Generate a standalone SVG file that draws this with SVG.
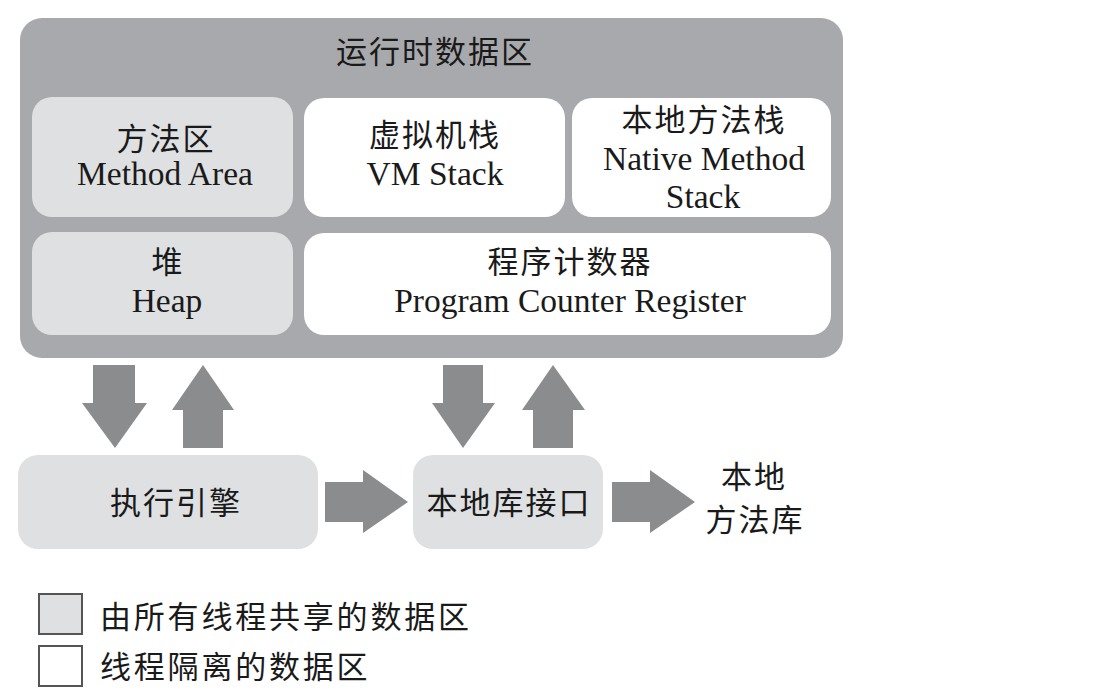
<svg xmlns="http://www.w3.org/2000/svg" width="1106" height="696" viewBox="0 0 1106 696">
<style>
.outer{fill:#a8a9ac}
.shared{fill:#dfe0e2}
.priv{fill:#ffffff}
.arrow{fill:#8b8c8e}
.t{font-family:"Liberation Serif","Noto Sans CJK SC",serif;font-size:33.5px;fill:#1a1a1a;text-anchor:middle}
.c{font-family:"Noto Sans CJK SC","Noto Sans CJK TC",sans-serif;font-size:31px;fill:#1a1a1a;text-anchor:middle}
.lg{font-family:"Noto Sans CJK SC","Noto Sans CJK TC",sans-serif;font-size:31px;fill:#1a1a1a;letter-spacing:2.8px}
.lbox{stroke:#555;stroke-width:2}
</style>
<rect width="1106" height="696" fill="#ffffff"/>
<g id="runtime-data-area">
<rect class="outer" x="20" y="18" width="823" height="340" rx="22"/>
<text class="c" x="435" y="63" letter-spacing="2">运行时数据区</text>
</g>
<g id="method-area">
<rect class="shared" x="32" y="97" width="261" height="120" rx="20"/>
<text class="c" x="166" y="150" letter-spacing="2">方法区</text>
<text class="t" x="165" y="185">Method Area</text>
</g>
<g id="vm-stack">
<rect class="priv" x="304" y="98" width="261" height="119" rx="20"/>
<text class="c" x="435" y="146" letter-spacing="2">虚拟机栈</text>
<text class="t" x="435" y="185">VM Stack</text>
</g>
<g id="native-method-stack">
<rect class="priv" x="572" y="98" width="259" height="119" rx="20"/>
<text class="c" x="704" y="131" letter-spacing="2">本地方法栈</text>
<text class="t" x="704" y="170">Native Method</text>
<text class="t" x="703" y="208">Stack</text>
</g>
<g id="heap">
<rect class="shared" x="32" y="232" width="261" height="103" rx="20"/>
<text class="c" x="167" y="273">堆</text>
<text class="t" x="167" y="312">Heap</text>
</g>
<g id="program-counter-register">
<rect class="priv" x="304" y="233" width="527" height="102" rx="20"/>
<text class="c" x="570" y="273" letter-spacing="2">程序计数器</text>
<text class="t" x="570" y="312">Program Counter Register</text>
</g>
<g id="execution-engine">
<rect class="shared" x="18" y="455" width="300" height="94" rx="20"/>
<text class="c" x="176" y="514" letter-spacing="2">执行引擎</text>
</g>
<g id="native-interface">
<rect class="shared" x="413" y="455" width="190" height="94" rx="20"/>
<text class="c" x="509" y="514" letter-spacing="2">本地库接口</text>
</g>
<g id="native-library">
<text class="c" x="754" y="488" letter-spacing="2">本地</text>
<text class="c" x="755" y="531" letter-spacing="2">方法库</text>
</g>
<g id="connectors">
<polygon class="arrow" points="93,365 135,365 135,403 147,403 115,448 82,403 93,403"/>
<polygon class="arrow" points="203,365 234,410 223,410 223,448 183,448 183,410 172,410"/>
<polygon class="arrow" points="443,365 483,365 483,403 495,403 463,448 432,403 443,403"/>
<polygon class="arrow" points="553,365 585,410 573,410 573,448 533,448 533,410 522,410"/>
<polygon class="arrow" points="325,482 363,482 363,470 408,502 363,533 363,522 325,522"/>
<polygon class="arrow" points="612,482 650,482 650,470 695,502 650,533 650,522 612,522"/>
</g>
<g id="legend">
<rect class="shared lbox" x="39" y="594" width="43" height="40"/>
<text class="lg" x="100" y="628">由所有线程共享的数据区</text>
<rect class="priv lbox" x="39" y="646" width="43" height="40"/>
<text class="lg" x="100" y="678">线程隔离的数据区</text>
</g>
</svg>
